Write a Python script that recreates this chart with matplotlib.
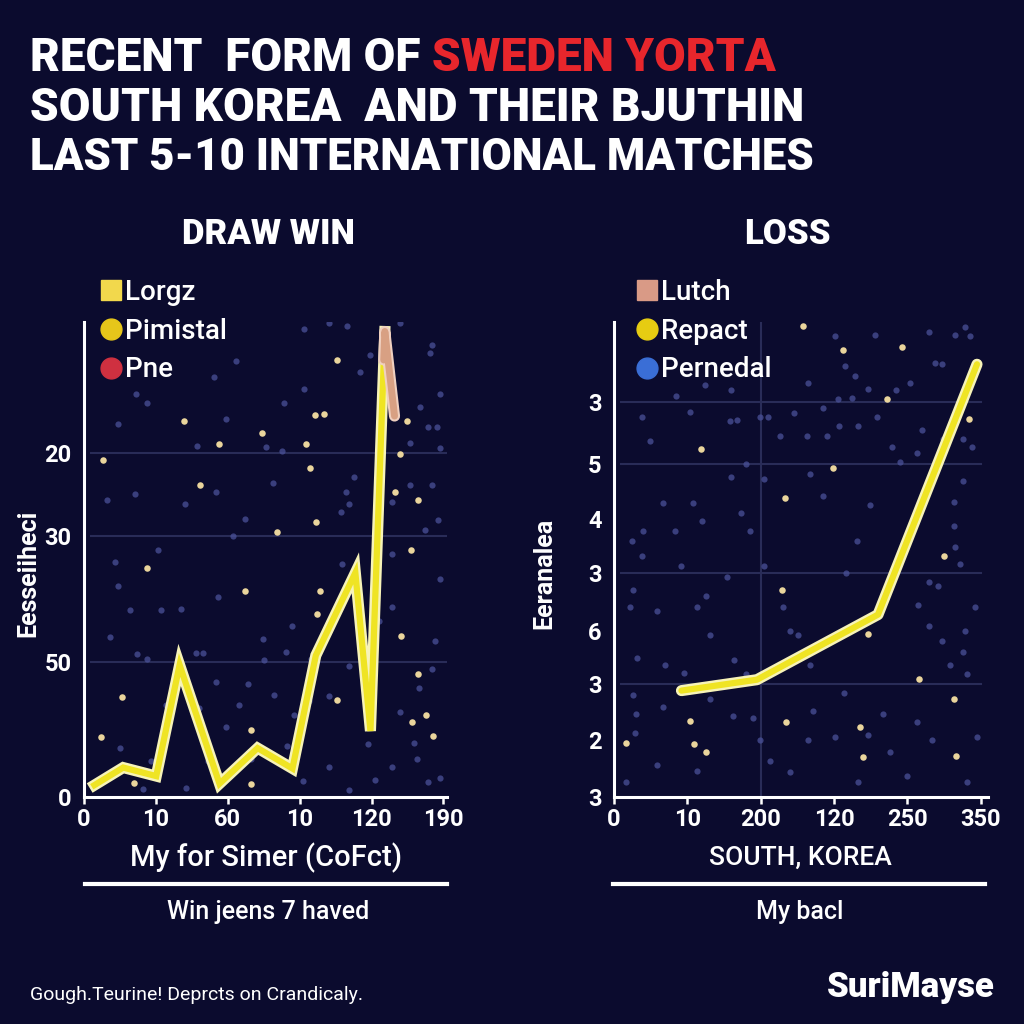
import matplotlib
matplotlib.use("Agg")
import matplotlib.pyplot as plt
import matplotlib.patheffects as pe
from matplotlib.lines import Line2D

BG = "#0b0b2e"
FONT = "Roboto"
plt.rcParams["font.family"] = [FONT, "DejaVu Sans"]

# ---------------- data ----------------
# left panel ("DRAW WIN")
left_x = [2.9, 10.9, 20.1, 26.6, 37.7, 48.3, 58.0, 64.5, 75.5, 79.7, 83.7]
left_y = [2.5, 6.2, 4.4, 27.8, 2.8, 10.3, 6.0, 29.8, 47.2, 13.9, 98.0]
left_tail_x = [83.4, 83.7, 86.4]
left_tail_y = [92.0, 98.0, 80.2]
left_xticks = [0, 20, 40, 60, 80, 100]
left_xticklabels = ["0", "10", "60", "10", "120", "190"]
left_yticks = [0, 28.4, 54.9, 72.5]
left_yticklabels = ["0", "50", "30", "20"]
left_legend = ["Lorgz", "Pimistal", "Pne"]

left_gold_x = [5.2, 27.8, 37.7, 32.4, 49.4, 61.8, 64.2, 66.8, 70.5, 62.9, 64.6, 53.8, 17.5, 44.7,
               65.7, 64.7, 90.9, 88.2, 70.5, 10.5, 4.8, 13.9, 46.4, 46.6, 89.8, 88.0, 86.4, 93.0,
               92.9, 91.3, 95.1, 97.2]
left_gold_y = [71.0, 79.1, 74.4, 65.6, 76.6, 74.4, 80.4, 80.7, 92.1, 69.3, 57.9, 55.8, 48.3, 43.4,
               43.4, 38.5, 52.1, 33.9, 20.5, 21.0, 12.7, 3.0, 14.1, 2.7, 79.1, 72.3, 64.3, 62.5,
               25.8, 15.8, 17.3, 12.9]
left_blue_x = [9.5, 14.6, 17.4, 36.3, 42.3, 39.5, 31.4, 61.2, 68.1, 73.2, 88.0, 79.7, 96.8, 96.3,
               76.9, 99.1, 93.5, 95.8, 98.2, 99.1, 90.8, 61.2, 55.7, 50.6, 55.2, 14.1, 6.3, 28.0,
               36.8, 52.6, 44.9, 41.4, 72.8, 75.1, 73.7, 71.4, 85.7, 90.8, 96.8, 98.6, 94.9, 8.6,
               9.5, 20.6, 12.7, 7.2, 21.5, 27.1, 37.2, 31.2, 33.1, 14.8, 17.6, 58.0, 56.1, 49.9,
               71.8, 75.1, 85.7, 97.7, 99.1, 85.7, 82.0, 73.7, 68.1, 62.6, 58.4, 52.9, 45.5, 43.2,
               36.6, 31.9, 22.9, 21.1, 10.0, 18.7, 16.4, 28.4, 39.5, 56.6, 60.8, 68.1, 73.7, 81.1,
               85.7, 92.6, 95.8, 99.1, 79.0, 91.7, 93.1, 96.8, 88.0, 65.4, 66.8, 63.1, 50.1, 46.4,
               34.4]
left_blue_y = [78.6, 84.8, 82.9, 88.5, 91.8, 79.5, 73.8, 98.6, 99.8, 99.2, 99.8, 93.0, 95.2, 93.5,
               89.4, 84.8, 82.1, 77.9, 77.9, 73.4, 74.6, 85.9, 82.9, 73.7, 72.9, 63.7, 62.5, 61.7,
               64.3, 66.1, 58.6, 54.9, 64.3, 67.3, 61.7, 59.9, 62.1, 65.7, 65.7, 58.3, 56.2, 49.4,
               44.4, 52.1, 39.3, 33.6, 39.3, 39.5, 42.1, 30.4, 30.4, 30.2, 29.1, 36.0, 30.6, 33.3,
               49.0, 42.9, 40.1, 32.9, 46.0, 51.2, 37.1, 27.6, 21.3, 20.2, 17.3, 21.4, 23.8, 19.4,
               24.2, 18.7, 19.3, 10.2, 10.3, 7.5, 1.7, 2.0, 14.7, 10.7, 3.3, 6.3, 1.4, 3.6,
               6.3, 7.9, 3.2, 4.0, 11.1, 11.3, 23.0, 27.0, 17.9, 31.3, 34.5, 29.0, 28.8, 7.9,
               7.5]

# right panel ("LOSS")
right_x = [0.92, 1.95, 3.60, 4.95]
right_y = [22.4, 24.7, 38.4, 91.1]
right_xticks = [0, 1, 2, 3, 4, 5]
right_xticklabels = ["0", "10", "200", "120", "250", "350"]
right_yticks = [0, 11.9, 23.8, 34.9, 47.1, 58.6, 70.1, 83.2]
right_yticklabels = ["3", "2", "3", "6", "3", "4", "5", "3"]
right_grid_y = [23.8, 47.1, 70.1, 83.2]
right_grid_x = [2]
right_legend = ["Lutch", "Repact", "Pernedal"]

right_gold_x = [2.573, 3.118, 3.923, 3.718, 4.841, 1.182, 2.982, 2.332, 4.5, 2.295, 3.459, 4.164,
                4.636, 1.036, 2.341, 3.355, 0.159, 1.086, 1.259, 3.391, 4.664]
right_gold_y = [99.2, 94.1, 94.8, 83.8, 79.5, 73.3, 69.2, 63.0, 50.7, 43.6, 34.3, 24.8,
                20.6, 16.0, 15.7, 14.8, 11.3, 11.1, 9.4, 8.5, 8.7]
right_blue_x = [0.24, 0.40, 0.38, 0.26, 0.22, 0.31, 0.26, 0.30, 0.29, 0.17, 0.49, 0.38, 0.85, 1.03,
                1.59, 1.24, 1.58, 1.68, 1.80, 1.99, 2.10, 2.45, 2.65, 3.01, 3.56, 4.29, 4.65, 4.79,
                4.85, 4.38, 4.47, 4.04, 3.85, 3.15, 3.29, 3.47, 3.24, 3.06, 2.85, 2.63, 2.90, 3.07,
                3.33, 3.58, 3.79, 3.90, 4.13, 4.20, 4.49, 4.76, 4.88, 4.76, 4.63, 4.63, 4.65, 4.72,
                4.92, 4.79, 4.76, 4.58, 4.47, 4.29, 4.15, 4.29, 4.42, 4.81, 4.95, 4.81, 3.99, 4.33,
                4.13, 3.76, 3.67, 3.47, 3.33, 3.13, 3.01, 2.72, 2.65, 2.40, 2.13, 1.99, 1.90, 1.80,
                1.63, 1.62, 1.31, 1.31, 1.13, 0.92, 0.83, 0.67, 1.08, 1.20, 1.60, 1.73, 1.85, 2.04,
                2.31, 2.40, 2.67, 2.51, 3.17, 3.31, 3.49, 2.85, 2.67, 2.26, 2.04, 1.54, 1.26, 0.58,
                0.70, 0.95, 0.67, 0.58, 1.13]
right_blue_y = [53.9, 55.9, 50.7, 43.6, 40.0, 29.3, 21.4, 17.4, 13.5, 3.2, 74.9, 80.0, 84.4, 81.0,
                85.6, 86.8, 79.2, 79.4, 70.1, 80.0, 79.9, 80.8, 87.2, 97.1, 97.3, 97.9, 97.3, 99.0,
                97.1, 91.3, 91.1, 87.2, 85.6, 90.7, 88.7, 86.0, 84.0, 83.8, 82.0, 76.1, 75.9, 78.1,
                78.1, 80.0, 73.7, 70.5, 72.5, 77.3, 75.3, 75.3, 73.7, 66.6, 62.2, 57.1, 52.7, 49.1,
                40.0, 34.9, 30.5, 27.7, 32.9, 36.1, 40.4, 45.2, 44.4, 25.8, 12.7, 3.2, 4.4, 11.9,
                15.8, 9.5, 17.4, 13.1, 3.2, 21.8, 12.7, 18.2, 11.9, 5.2, 7.5, 11.9, 16.6, 25.8,
                28.9, 17.0, 20.6, 34.1, 40.0, 48.7, 55.9, 61.8, 61.8, 58.2, 67.4, 59.8, 55.9, 48.7,
                40.0, 34.9, 27.7, 34.1, 47.1, 53.9, 61.4, 63.4, 68.1, 76.1, 67.0, 46.4, 42.4, 39.2,
                27.7, 26.1, 19.0, 6.7, 5.5]

# ---------------- figure ----------------
W = 1024.0
fig = plt.figure(figsize=(10.24, 10.24), dpi=100, facecolor=BG)


def fx(px):
    return px / W


def fy(py):
    return 1 - py / W


LINE = "#efe424"
GLOW = [pe.Stroke(linewidth=8, foreground="#f7f3b8"), pe.Normal()]
BLUE_DOT = "#4a5199"
GOLD_DOT = "#ead59c"


def style_axes(ax):
    ax.set_facecolor(BG)
    for s in ["top", "right"]:
        ax.spines[s].set_visible(False)
    for s in ["left", "bottom"]:
        ax.spines[s].set_color("white")
        ax.spines[s].set_linewidth(2.2)
    ax.tick_params(axis="x", colors="white", length=5, width=1.8, pad=3)
    ax.tick_params(axis="y", colors="white", length=0, pad=9)
    for lab in ax.get_xticklabels() + ax.get_yticklabels():
        lab.set_fontsize(17)
        lab.set_fontweight("bold")
        lab.set_color("white")


# left axes
ax1 = fig.add_axes([fx(84), fy(797), fx(447 - 84), (797 - 322) / W])
ax1.set_xlim(0, 101)
ax1.set_ylim(0, 100)
for gy in left_yticks[1:]:
    ax1.axhline(gy, xmin=0.02, color="#292c58", lw=1.5, zorder=0)
ax1.scatter(left_blue_x, left_blue_y, s=20, color=BLUE_DOT, alpha=0.75, lw=0, zorder=1)
ax1.scatter(left_gold_x, left_gold_y, s=22, color=GOLD_DOT, lw=0, zorder=1)
ax1.plot(left_x, left_y, color=LINE, lw=4.5, solid_joinstyle="miter", zorder=3, path_effects=GLOW)
ax1.plot(left_tail_x, left_tail_y, color="#d8a083", lw=5, solid_capstyle="round", zorder=4,
         path_effects=[pe.Stroke(linewidth=8, foreground="#f0d0c0"), pe.Normal()])
ax1.set_xticks(left_xticks, left_xticklabels)
ax1.set_yticks(left_yticks, left_yticklabels)
style_axes(ax1)
ax1.set_ylabel("Eesseiiheci", color="white", fontsize=18, fontweight="bold")
ax1.yaxis.set_label_coords(-0.12, 0.47)

# right axes
ax2 = fig.add_axes([fx(614), fy(797), fx(988 - 614), (797 - 322) / W])
ax2.set_xlim(0, 5.1)
ax2.set_ylim(0, 100)
for gy in right_grid_y:
    ax2.axhline(gy, xmin=0.02, xmax=0.98, color="#292c58", lw=1.5, zorder=0)
for gx in right_grid_x:
    ax2.axvline(gx, color="#292c58", lw=1.5, zorder=0)
ax2.scatter(right_blue_x, right_blue_y, s=20, color=BLUE_DOT, alpha=0.75, lw=0, zorder=1)
ax2.scatter(right_gold_x, right_gold_y, s=22, color=GOLD_DOT, lw=0, zorder=1)
ax2.plot(right_x, right_y, color=LINE, lw=4.5, solid_capstyle="round", zorder=3, path_effects=GLOW)
ax2.set_xticks(right_xticks, right_xticklabels)
ax2.set_yticks(right_yticks, right_yticklabels)
style_axes(ax2)
ax2.set_ylabel("Eeranalea", color="white", fontsize=18, fontweight="bold")
ax2.yaxis.set_label_coords(-0.154, 0.47)


# legends
def make_legend(ax, labels, specs, x_px, y_px):
    handles = [Line2D([], [], ls="none", marker=m, markersize=15, markerfacecolor=c,
                      markeredgecolor=c) for m, c in specs]
    leg = ax.legend(handles, labels, loc="upper left", bbox_to_anchor=(fx(x_px), fy(y_px)),
                    bbox_transform=fig.transFigure, frameon=False, fontsize=20,
                    handlelength=0.75, handletextpad=0.12, labelspacing=0.42, borderpad=0,
                    borderaxespad=0)
    for t in leg.get_texts():
        t.set_color("white")
        t.set_fontweight("medium")
    leg.set_zorder(10)


make_legend(ax1, left_legend, [("s", "#f2d84c"), ("o", "#e6c61a"), ("o", "#cf3040")], 101, 279)
make_legend(ax2, right_legend, [("s", "#d99a86"), ("o", "#e6cc12"), ("o", "#3a6ed6")], 637, 279)

# title
TS = 33
tkw = dict(fontsize=TS, fontweight="black", color="white", va="center", ha="left")
t1 = fig.text(fx(30), fy(58), "RECENT  FORM OF ", **tkw)
fig.text(fx(30), fy(108), "SOUTH KOREA  AND THEIR BJUTHIN", **tkw)
fig.text(fx(30), fy(158), "LAST 5-10 INTERNATIONAL MATCHES", fontsize=TS - 1.5,
         fontweight="black", color="white", va="center", ha="left")
fig.canvas.draw()
bb = t1.get_window_extent()
fig.text(bb.x1 / W, fy(58), "SWEDEN YORTA", fontsize=TS, fontweight="black", color="#e8262c",
         va="center", ha="left")

# panel headers
fig.text(fx(268), fy(235), "DRAW WIN", fontsize=25, fontweight="black", color="white",
         ha="center", va="center")
fig.text(fx(787), fy(235), "LOSS", fontsize=25, fontweight="black", color="white",
         ha="center", va="center")

# x captions
fig.text(fx(266), fy(858), "My for Simer (CoFct)", fontsize=21, fontweight="medium", color="white",
         ha="center", va="center")
fig.text(fx(800), fy(858), "SOUTH, KOREA", fontsize=19, fontweight="medium", color="white",
         ha="center", va="center")
fig.add_artist(Line2D([fx(85), fx(447)], [fy(884), fy(884)], color="white", lw=3))
fig.add_artist(Line2D([fx(613), fx(985)], [fy(884), fy(884)], color="white", lw=3))
fig.text(fx(268), fy(912), "Win jeens 7 haved", fontsize=18, fontweight="medium", color="white",
         ha="center", va="center")
fig.text(fx(800), fy(912), "My bacl", fontsize=18, fontweight="medium", color="white",
         ha="center", va="center")

# footer
fig.text(fx(30), fy(995), "Gough.Teurine! Deprcts on Crandicaly.", fontsize=14, color="white",
         ha="left", va="center")
fig.text(fx(995), fy(988), "SuriMayse", fontsize=25, fontweight="black", color="white",
         ha="right", va="center")

fig.savefig("out.png", dpi=100, facecolor=BG)
